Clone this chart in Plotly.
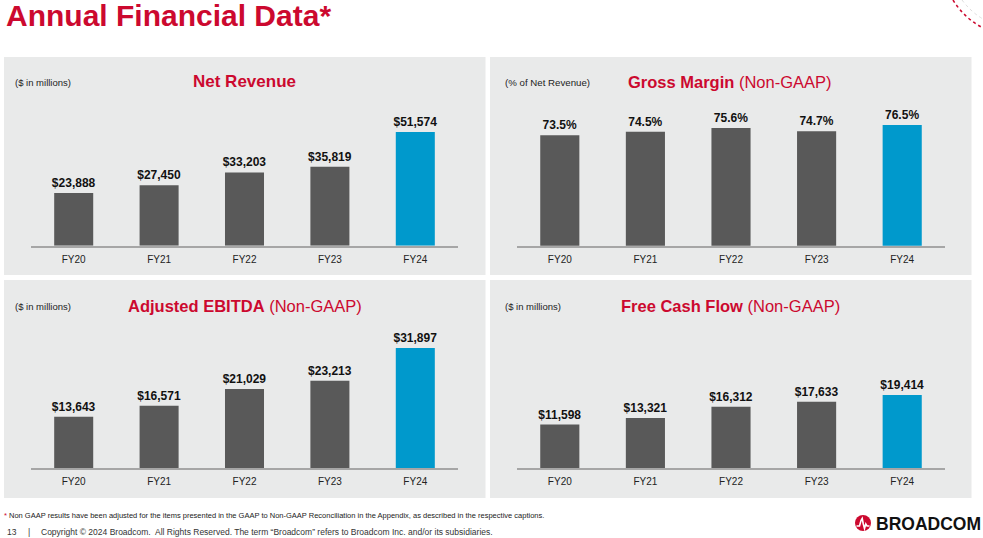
import plotly.graph_objects as go

# ---------------- data ----------------
years = ["FY20", "FY21", "FY22", "FY23", "FY24"]
net_revenue = [23888, 27450, 33203, 35819, 51574]
gross_margin = [73.5, 74.5, 75.6, 74.7, 76.5]
adj_ebitda = [13643, 16571, 21029, 23213, 31897]
free_cash_flow = [11598, 13321, 16312, 17633, 19414]

W, H = 983, 538
RED = "#cc092f"
GRAY_BAR = "#595959"
BLUE_BAR = "#0099cc"
PANEL = "#e9eaea"
FONT = "Liberation Sans, Arial, sans-serif"


def px(x):
    return x / W


def py(y):
    return 1 - y / H


bar_colors = [GRAY_BAR] * 4 + [BLUE_BAR]

fig = go.Figure()

panels = [
    (net_revenue, "x", "y", "$%{y:,}"),
    (gross_margin, "x2", "y2", "%{y:.1f}%"),
    (adj_ebitda, "x3", "y3", "$%{y:,}"),
    (free_cash_flow, "x4", "y4", "$%{y:,}"),
]
for vals, xa, ya, tt in panels:
    fig.add_trace(go.Bar(
        x=years, y=vals, xaxis=xa, yaxis=ya,
        marker=dict(color=bar_colors, line=dict(width=0)),
        texttemplate=tt, textposition="outside",
        textfont=dict(family=FONT, size=12, color="#111111", weight="bold"),
        constraintext="none", cliponaxis=False, showlegend=False,
        hoverinfo="skip",
    ))

# axis geometry (pixels)
top_base, bot_base = 245.7, 468.3
top_top, bot_top = 100, 320
left_x = (31, 458)
right_x = (517, 945)

rev_scale = 0.002205   # px per $M (top-left)
gm_scale = 3.45        # px per % (top-right)
gm_base = 41.5
bot_scale = 0.00377    # px per $M (bottom)

xcommon = dict(showgrid=False, zeroline=False, showline=True, linecolor="#a6a6a6",
               linewidth=2, ticks="", ticklabelstandoff=3, fixedrange=True,
               tickfont=dict(family=FONT, size=10, color="#222222"))
ycommon = dict(showgrid=False, zeroline=False, showline=False, showticklabels=False,
               fixedrange=True)

layout = dict(
    width=W, height=H, margin=dict(l=0, r=0, t=0, b=0),
    paper_bgcolor="white", plot_bgcolor="rgba(0,0,0,0)",
    bargap=0.543, font=dict(family=FONT),
    xaxis=dict(domain=[px(left_x[0]), px(left_x[1])], anchor="y", **xcommon),
    xaxis2=dict(domain=[px(right_x[0]), px(right_x[1])], anchor="y2", **xcommon),
    xaxis3=dict(domain=[px(left_x[0]), px(left_x[1])], anchor="y3", **xcommon),
    xaxis4=dict(domain=[px(right_x[0]), px(right_x[1])], anchor="y4", **xcommon),
    yaxis=dict(domain=[py(top_base), py(top_top)], anchor="x",
               range=[0, (top_base - top_top) / rev_scale], **ycommon),
    yaxis2=dict(domain=[py(top_base), py(top_top)], anchor="x2",
                range=[gm_base, gm_base + (top_base - top_top) / gm_scale], **ycommon),
    yaxis3=dict(domain=[py(bot_base), py(bot_top)], anchor="x3",
                range=[0, (bot_base - bot_top) / bot_scale], **ycommon),
    yaxis4=dict(domain=[py(bot_base), py(bot_top)], anchor="x4",
                range=[0, (bot_base - bot_top) / bot_scale], **ycommon),
)
fig.update_layout(**layout)

# panel backgrounds
shapes = []
for (x0, x1, y0, y1) in [(4, 485.5, 57, 275), (490, 971.5, 57, 275),
                         (4, 485.5, 280, 498), (490, 971.5, 280, 498)]:
    shapes.append(dict(type="rect", xref="paper", yref="paper", layer="below",
                       x0=px(x0), x1=px(x1), y0=py(y1), y1=py(y0),
                       fillcolor=PANEL, line=dict(width=0)))

# logo circle
shapes.append(dict(type="circle", xref="paper", yref="paper",
                   x0=px(855), x1=px(871), y0=py(531), y1=py(515),
                   fillcolor=RED, line=dict(width=0)))


def path(points):
    return "M " + " L ".join(f"{px(a):.5f},{py(b):.5f}" for a, b in points)


shapes.append(dict(type="path", xref="paper", yref="paper",
                   path=path([(856.5, 526), (859.5, 526), (861, 520.5), (862.2, 518.5),
                              (863.3, 524), (864.5, 528.5), (865.8, 524), (867, 526),
                              (869.5, 526)]),
                   line=dict(color="white", width=1.6)))

# decorative dotted arcs, top right
shapes.append(dict(type="path", xref="paper", yref="paper",
                   path=f"M {px(953):.5f},{py(0):.5f} Q {px(964):.5f},{py(18):.5f} {px(983):.5f},{py(28):.5f}",
                   line=dict(color=RED, width=1.5, dash="dot")))
shapes.append(dict(type="path", xref="paper", yref="paper",
                   path=f"M {px(962):.5f},{py(0):.5f} Q {px(971):.5f},{py(12):.5f} {px(983):.5f},{py(19):.5f}",
                   line=dict(color="#dddddd", width=1, dash="dot")))
fig.update_layout(shapes=shapes)

ann = []


def add_text(x, y, text, size, color="#222222", xanchor="left", yanchor="middle"):
    ann.append(dict(x=px(x), y=py(y), xref="paper", yref="paper", text=text,
                    showarrow=False, xanchor=xanchor, yanchor=yanchor,
                    font=dict(family=FONT, size=size, color=color)))


add_text(4, 15, "<b>Annual Financial Data*</b>", 30, RED)

add_text(244, 82, "<b>Net Revenue</b>", 17, RED, "center")
add_text(730, 82, "<b>Gross Margin</b> (Non-GAAP)", 16.5, RED, "center")
add_text(244.5, 305.5, "<b>Adjusted EBITDA</b> (Non-GAAP)", 16.5, RED, "center")
add_text(730.5, 305.5, "<b>Free Cash Flow</b> (Non-GAAP)", 16.5, RED, "center")

add_text(13, 82.5, "($ in millions)", 9.5)
add_text(503, 82.5, "(% of Net Revenue)", 9.7)
add_text(13, 306.5, "($ in millions)", 9.5)
add_text(503, 306.5, "($ in millions)", 9.5)

add_text(2, 515, f"<span style='color:{RED}'>*</span> Non GAAP results have been adjusted for the items "
         "presented in the GAAP to Non-GAAP Reconciliation in the Appendix, as described in the "
         "respective captions.", 7.5, "#222222")
add_text(5, 531.5, "13", 8.5, "#333333")
add_text(26, 531.5, "|", 8.5, "#333333")
add_text(39, 531.5, "Copyright © 2024 Broadcom.  All Rights Reserved. The term “Broadcom” refers to "
         "Broadcom Inc. and/or its subsidiaries.", 8.5, "#333333")
add_text(874, 523.5, "<b>BROADCOM</b>", 17.5, "#111111")

fig.update_layout(annotations=ann)

fig.write_html(
    "out.html",
    config={"displayModeBar": False},
    post_script="document.body.style.margin='0';document.body.style.padding='0';"
                "document.body.style.overflow='hidden';",
)
